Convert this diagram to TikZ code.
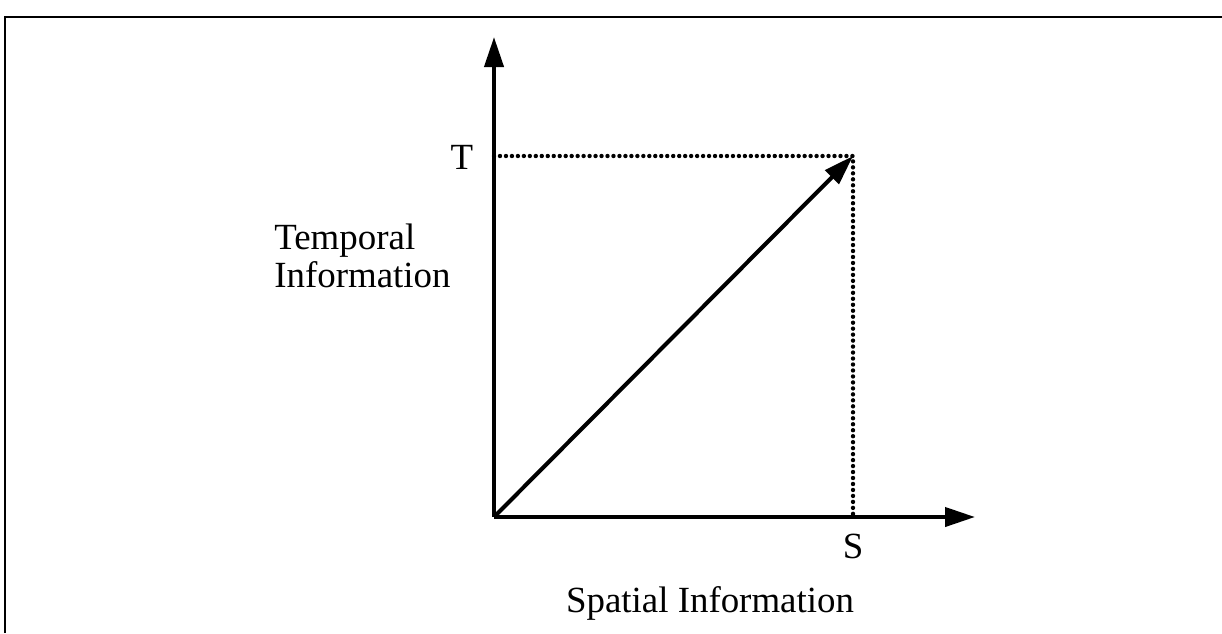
\documentclass[tikz,border=0pt]{standalone}
\usepackage{fontspec}
\setmainfont{Liberation Serif}
\usepackage{tikz}
\usetikzlibrary{arrows.meta,positioning,calc}

\begin{document}
\begin{tikzpicture}[
    x=0.02cm, y=-0.02cm,
    axis/.style={line width=2.3pt, -{Triangle[length=0.6cm,width=0.38cm]}},
    guide/.style={line width=2.5pt, line cap=round,
                  dash pattern=on 0pt off 3.4pt},
    lbl/.style={font=\fontsize{21}{22}\selectfont, inner sep=0pt},
  ]
  \useasboundingbox (0,0) rectangle (1222,633);

  %% Frame
  \draw[line width=1.4pt] (5,633) -- (5,17) -- (1222,17);

  %% Corner points
  \coordinate (O) at (494,517);
  \coordinate (ytip) at (494,37);
  \coordinate (xtip) at (975,517);
  \coordinate (P) at (853,156);
  \coordinate (Tp) at (494,156);
  \coordinate (Sp) at (853,517);

  %% Guides
  \draw[guide] (Tp) -- (P) -- (Sp);

  %% Axes
  \draw[axis] (O) -- (ytip);
  \draw[axis] (O) -- (xtip);
  \draw[axis] (O) -- (P);

  %% Labels
  \node[lbl] (T) at (462,157) {T};
  \node[lbl] (S) at (853,546) {S};
  \node[lbl, anchor=west, align=left] (temporal) at (274,256)
    {Temporal\\Information};
  \node[lbl] (spatial) at (710,603) {Spatial Information};
\end{tikzpicture}
\end{document}
